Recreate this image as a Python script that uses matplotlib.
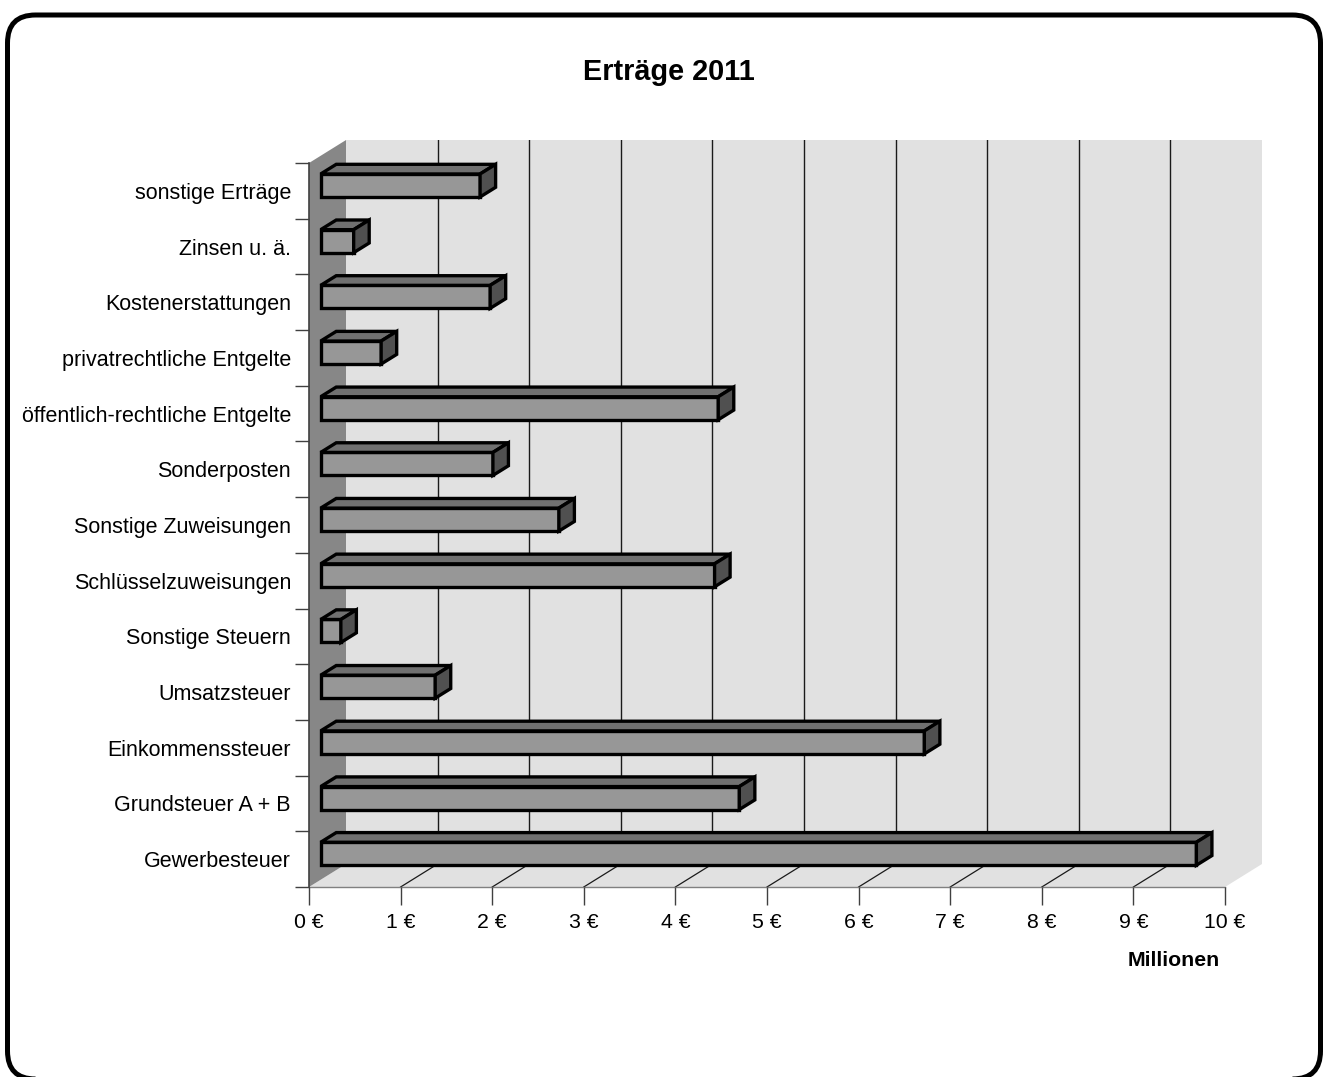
import matplotlib
matplotlib.use("Agg")
import matplotlib.pyplot as plt
from matplotlib.patches import Polygon, FancyBboxPatch

plt.rcParams['font.family'] = ['Liberation Sans', 'DejaVu Sans']

# ---------------- data (top-to-bottom order as shown) ----------------
categories = [
    "sonstige Erträge",
    "Zinsen u. ä.",
    "Kostenerstattungen",
    "privatrechtliche Entgelte",
    "öffentlich-rechtliche Entgelte",
    "Sonderposten",
    "Sonstige Zuweisungen",
    "Schlüsselzuweisungen",
    "Sonstige Steuern",
    "Umsatzsteuer",
    "Einkommenssteuer",
    "Grundsteuer A + B",
    "Gewerbesteuer",
]
values = [1.74, 0.36, 1.85, 0.66, 4.34, 1.88, 2.60, 4.30, 0.22, 1.25, 6.59, 4.57, 9.56]  # Millionen €
x_ticks = [0, 1, 2, 3, 4, 5, 6, 7, 8, 9, 10]
x_tick_labels = [f"{t} €" for t in x_ticks]
title = "Erträge 2011"
x_unit = "Millionen"

# ---------------- style / layout ----------------
W, H = 1323, 1077
fig = plt.figure(figsize=(W / 100, H / 100), dpi=100)

px_x = 91.6      # pixels per value unit
px_y = 55.69     # pixels per category
DXP, DYP = 37, 23  # chart depth in pixels
n = len(categories)
xmax = x_ticks[-1]
DX = DXP / px_x
DY = DYP / px_y

ax_w = xmax * px_x + DXP
ax_h = n * px_y + DYP
ax = fig.add_axes([309 / W, (H - 887) / H, ax_w / W, ax_h / H])
ax.set_xlim(0, xmax + DX)
ax.set_ylim(0, n + DY)
for s in ax.spines.values():
    s.set_visible(False)
ax.patch.set_visible(False)

wall_c = "#e1e1e1"
side_c = "#878787"
front_c = "#979797"
top_c = "#707070"
right_c = "#505050"

# back wall
ax.add_patch(Polygon([(DX, DY), (xmax + DX, DY), (xmax + DX, n + DY), (DX, n + DY)],
                     closed=True, fc=wall_c, ec="none", zorder=0))
# floor
ax.add_patch(Polygon([(0, 0), (xmax, 0), (xmax + DX, DY), (DX, DY)],
                     closed=True, fc=wall_c, ec="none", zorder=0))
# side wall
ax.add_patch(Polygon([(0, 0), (DX, DY), (DX, n + DY), (0, n)],
                     closed=True, fc=side_c, ec="none", zorder=0.5))

# gridlines (back wall + floor)
for t in x_ticks[1:-1]:
    ax.plot([t + DX, t + DX], [DY, n + DY], color="#1a1a1a", lw=1.0, zorder=1)
    ax.plot([t, t + DX], [0, DY], color="#1a1a1a", lw=0.9, zorder=1)

# front axis lines
ax.plot([0, xmax], [0, 0], color="#808080", lw=1.0, zorder=1.5, clip_on=False)
ax.plot([0, 0], [0, n], color="#404040", lw=1.2, zorder=1.5, clip_on=False)

# bars
f0 = 0.316          # depth position of bar front
fd = 0.42           # bar depth fraction
bar_b = 0.26        # bar bottom within category (front plane)
bar_h = 0.413       # bar height
x0 = f0 * DX
ddx, ddy = fd * DX, fd * DY
lw_bar = 2.4
pos = list(range(n - 1, -1, -1))  # y index for each category (top first)
ys = [p + bar_b + f0 * DY for p in pos]
ax.barh(ys, values, left=x0, height=bar_h, align="edge",
        color=front_c, edgecolor="black", linewidth=lw_bar, zorder=3)
for y, v in zip(ys, values):
    yt = y + bar_h
    xr = x0 + v
    ax.add_patch(Polygon([(x0, yt), (xr, yt), (xr + ddx, yt + ddy), (x0 + ddx, yt + ddy)],
                         closed=True, fc=top_c, ec="black", lw=lw_bar, joinstyle="miter", zorder=3))
    ax.add_patch(Polygon([(xr, y), (xr + ddx, y + ddy), (xr + ddx, yt + ddy), (xr, yt)],
                         closed=True, fc=right_c, ec="black", lw=lw_bar, joinstyle="miter", zorder=3))

# ticks
ax.set_xticks(x_ticks)
ax.set_xticklabels(x_tick_labels, fontsize=15.3)
ax.tick_params(axis="x", length=13, width=1.0, color="#404040", pad=6)
ax.set_yticks(range(0, n + 1))
ax.set_yticklabels([])
ax.tick_params(axis="y", which="major", length=10, width=1.0, color="#404040")
ax.set_yticks([p + 0.5 for p in pos], minor=True)
ax.set_yticklabels(categories, minor=True, fontsize=15.5)
ax.tick_params(axis="y", which="minor", length=0, pad=13)

fig.text(669 / W, 1 - 72 / H, title, fontsize=20.8, fontweight="bold",
         ha="center", va="center")
fig.text(1174 / W, 1 - 960 / H, x_unit, fontsize=15.3, fontweight="bold",
         ha="center", va="center")

# rounded frame
frame = FancyBboxPatch((0.075, -0.02), 13.13, 10.64,
                       boxstyle="round,pad=0,rounding_size=0.28",
                       transform=fig.dpi_scale_trans, fill=False,
                       lw=3.6, ec="black")
fig.add_artist(frame)

fig.savefig("out.png", dpi=100)
